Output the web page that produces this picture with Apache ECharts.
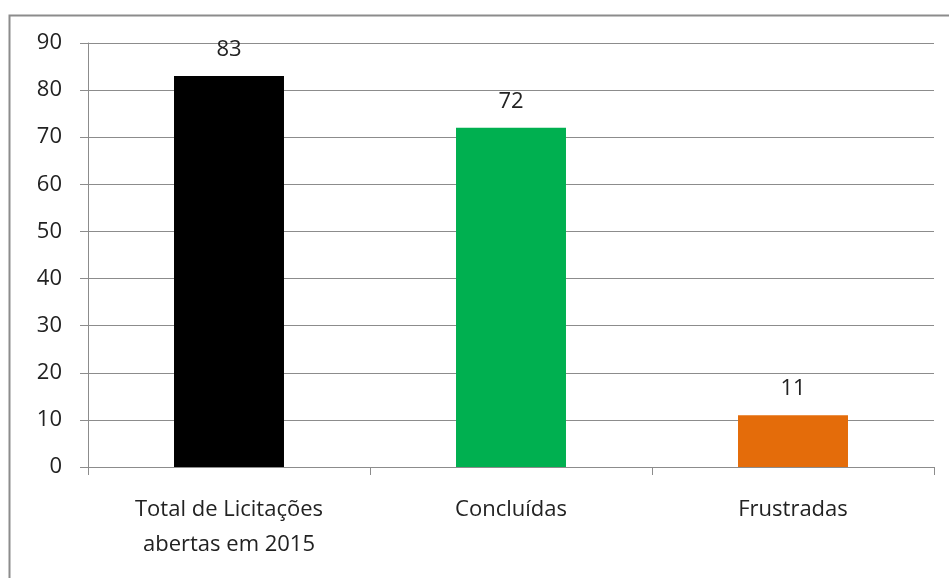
<!DOCTYPE html>
<html>
<head>
<meta charset="utf-8">
<script src="https://cdn.jsdelivr.net/npm/echarts@6/dist/echarts.min.js"></script>
<style>
  html, body { margin: 0; padding: 0; background: #fff; }
  #chart { width: 949px; height: 578px; }
</style>
</head>
<body>
<div id="chart"></div>
<script>
const categories = ['Total de Licitações\nabertas em 2015', 'Concluídas', 'Frustradas']
const values = [83, 72, 11]
const barColors = ['#000000', '#00b050', '#e46c0a']

const chart = echarts.init(document.getElementById('chart'))

const option = {
  backgroundColor: '#fff',
  textStyle: { fontFamily: '"Open Sans", sans-serif' },
  grid: { left: 88, right: 15, top: 43, bottom: 111 },
  graphic: [{
    type: 'rect',
    left: 7, top: 13,
    shape: { width: 960, height: 600 },
    style: { fill: 'none', stroke: '#8c8c8c', lineWidth: 2 },
    silent: true
  }],
  xAxis: {
    type: 'category',
    data: categories,
    axisLine: { lineStyle: { color: '#8c8c8c', width: 1 } },
    axisTick: { show: true, alignWithLabel: false, length: 8, lineStyle: { color: '#8c8c8c' } },
    axisLabel: { color: '#222', fontSize: 22, margin: 25, lineHeight: 35 }
  },
  yAxis: {
    type: 'value',
    min: 0, max: 90, interval: 10,
    axisLine: { show: true, lineStyle: { color: '#8c8c8c' } },
    axisTick: { show: true, length: 8, lineStyle: { color: '#8c8c8c' } },
    splitLine: { lineStyle: { color: '#8c8c8c' } },
    axisLabel: { color: '#222', fontSize: 22, margin: 26 }
  },
  series: [{
    type: 'bar',
    data: values.map((v, i) => ({ value: v, itemStyle: { color: barColors[i] } })),
    barWidth: '39%',
    label: { show: true, position: 'top', distance: 15, color: '#222', fontSize: 22 }
  }]
}

chart.setOption(option)
</script>
</body>
</html>
